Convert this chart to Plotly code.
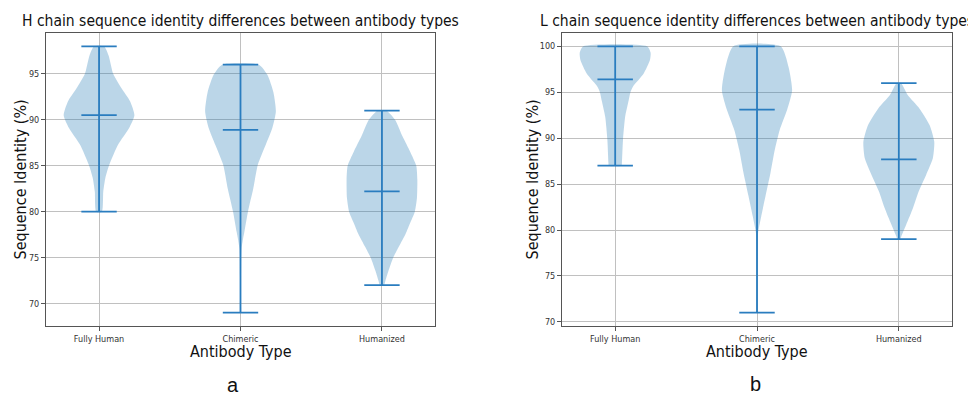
import plotly.graph_objects as go

# ---------------- data ----------------
categories = ["Fully Human", "Chimeric", "Humanized"]

# H chain: identity levels (%) and relative violin density (1 = widest)
h_fully_y = [80, 82.2, 83.7, 85.1, 87.3, 89.1, 90.5, 92.0, 93.4, 95.0, 97.0, 98]
h_fully_d = [0.08, 0.12, 0.18, 0.29, 0.54, 0.85, 1.0, 0.88, 0.64, 0.40, 0.27, 0.14]
h_chim_y = [69, 71, 73, 75, 76, 77, 77.8, 80, 82.5, 85.1, 87.25, 89.1, 90.9, 93.0, 94.9, 96]
h_chim_d = [0.01, 0.01, 0.015, 0.02, 0.03, 0.07, 0.11, 0.21, 0.36, 0.49, 0.71, 0.9, 1.0, 0.93, 0.76, 0.52]
h_hum_y = [72, 72.5, 73.5, 75, 76.2, 77.6, 78.8, 80, 81.5, 83.5, 85, 86.5, 88.2, 90, 91]
h_hum_d = [0.06, 0.10, 0.18, 0.32, 0.48, 0.67, 0.80, 0.93, 0.99, 1.0, 0.97, 0.80, 0.58, 0.37, 0.12]
h_means = [90.5, 88.9, 82.2]

# L chain
l_fully_y = [87, 87.3, 89.8, 92.3, 94.1, 95.0, 95.6, 97.0, 98.5, 99.3, 100]
l_fully_d = [0.18, 0.19, 0.22, 0.28, 0.38, 0.43, 0.50, 0.80, 0.98, 1.0, 0.9]
l_chim_y = [71, 73, 75, 77, 78.5, 79.7, 81.5, 83.7, 86.2, 88.7, 90.9, 93.1, 95.2, 97.75, 100]
l_chim_d = [0.01, 0.01, 0.01, 0.015, 0.02, 0.03, 0.12, 0.24, 0.38, 0.5, 0.64, 0.85, 0.99, 0.89, 0.67]
l_hum_y = [79, 79.3, 80.6, 82.4, 84.2, 86.0, 87.8, 89.6, 91.4, 93.24, 94.7, 96]
l_hum_d = [0.04, 0.07, 0.21, 0.40, 0.56, 0.77, 0.96, 1.0, 0.87, 0.58, 0.25, 0.06]
l_means = [96.4, 93.1, 87.7]

y_ticks = [70, 75, 80, 85, 90, 95, 100]

# ---------------- styling ----------------
FILL = "rgba(31,119,180,0.3)"
LINE = "#2a7dbf"
HALF = 0.25      # half of violin width (widths=0.5)
CAP = 0.125      # half length of extrema / mean bars
FONT = "DejaVu Sans Condensed, DejaVu Sans, sans-serif"

# page body has an 8px margin; lay out in window pixels and offset
OFF = 8
W, H = 976 - OFF, 396 - OFF

fig = go.Figure()


def add_panel(series, means, xa, ya):
    for i, (ys, ds) in enumerate(series):
        pos = i + 1
        xs = [pos + HALF * d for d in ds] + [pos - HALF * d for d in reversed(ds)]
        yy = list(ys) + list(reversed(ys))
        fig.add_trace(go.Scatter(
            x=xs + [xs[0]], y=yy + [yy[0]], mode="lines", fill="toself",
            fillcolor=FILL, line=dict(width=0, shape="spline", smoothing=0.6),
            hoverinfo="skip", showlegend=False, xaxis=xa, yaxis=ya))
    lx, ly = [], []
    for i, (ys, ds) in enumerate(series):
        pos = i + 1
        lo, hi, mu = min(ys), max(ys), means[i]
        lx += [pos, pos, None]
        ly += [lo, hi, None]
        for v in (lo, hi, mu):
            lx += [pos - CAP, pos + CAP, None]
            ly += [v, v, None]
    fig.add_trace(go.Scatter(x=lx, y=ly, mode="lines",
                             line=dict(color=LINE, width=1.8),
                             hoverinfo="skip", showlegend=False,
                             xaxis=xa, yaxis=ya))


add_panel([(h_fully_y, h_fully_d), (h_chim_y, h_chim_d), (h_hum_y, h_hum_d)],
          h_means, "x", "y")
add_panel([(l_fully_y, l_fully_d), (l_chim_y, l_chim_d), (l_hum_y, l_hum_d)],
          l_means, "x2", "y2")

ax_common = dict(
    showgrid=True, gridcolor="#c0c0c0", gridwidth=1,
    showline=True, linecolor="#555555", linewidth=1, mirror=True,
    ticks="outside", ticklen=4, tickcolor="#555555", tickwidth=1,
    tickfont=dict(family=FONT, size=9, color="#333333"),
    zeroline=False, fixedrange=True,
)
xdef = dict(ax_common, range=[0.625, 3.375], tickvals=[1, 2, 3],
            ticktext=categories)


def px_x(x):
    return (x - OFF) / W


def px_y(y):
    return (H - (y - OFF)) / H


fig.update_layout(
    width=W, height=H,
    margin=dict(l=0, r=0, t=0, b=0),
    paper_bgcolor="white", plot_bgcolor="white",
    xaxis=dict(xdef, domain=[px_x(46), px_x(435)], anchor="y"),
    yaxis=dict(ax_common, domain=[px_y(326), px_y(33)], range=[67.55, 99.45],
               tickvals=y_ticks[:-1], anchor="x"),
    xaxis2=dict(xdef, domain=[px_x(562), px_x(952)], anchor="y2"),
    yaxis2=dict(ax_common, domain=[px_y(326), px_y(33)], range=[69.55, 101.45],
                tickvals=y_ticks, anchor="x2"),
)


def ann(text, x, y, size, angle=0, family=FONT):
    fig.add_annotation(text=text, x=px_x(x), y=px_y(y), xref="paper",
                       yref="paper", showarrow=False, textangle=angle,
                       xanchor="center", yanchor="middle",
                       font=dict(family=family, size=size, color="#111111"))


ann("H chain sequence identity differences between antibody types", 240.5, 21, 15.5)
ann("L chain sequence identity differences between antibody types", 757, 21, 15.5)
ann("Sequence Identity (%)", 20, 179.5, 16, angle=-90)
ann("Sequence Identity (%)", 532, 179.5, 16, angle=-90)
ann("Antibody Type", 240.5, 351, 16)
ann("Antibody Type", 757, 351.5, 16)
ann("a", 232.5, 385, 20, family="Liberation Sans, Arial, sans-serif")
ann("b", 755, 384, 20, family="Liberation Sans, Arial, sans-serif")

fig.write_html("out.html")
